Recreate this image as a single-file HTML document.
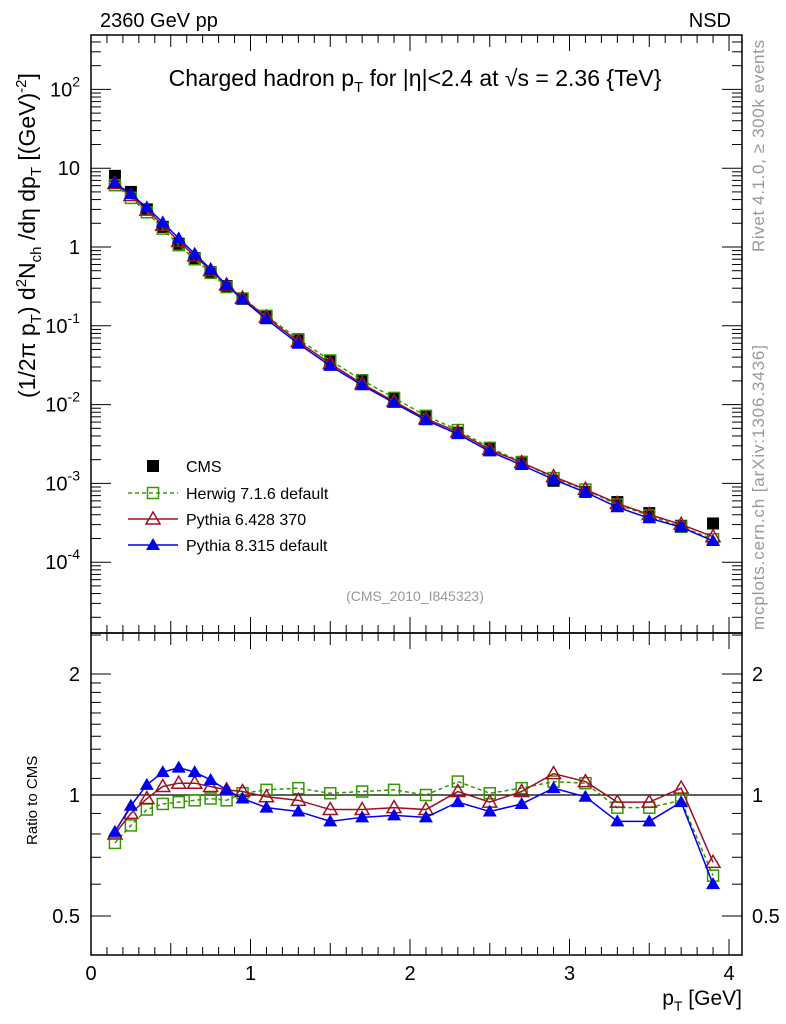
<!DOCTYPE html>
<html><head><meta charset="utf-8"><style>
body{margin:0;background:#fff;}
svg{display:block;font-family:"Liberation Sans",sans-serif;}
</style></head><body>
<svg id="c" width="786" height="1024" viewBox="0 0 786 1024"></svg>
<script>
const xs=[0.15,0.25,0.35,0.45,0.55,0.65,0.75,0.85,0.95,1.1,1.3,1.5,1.7,1.9,2.1,2.3,2.5,2.7,2.9,3.1,3.3,3.5,3.7,3.9];
const cms=[8.0,5.0,3.0,1.8,1.1,0.72,0.48,0.32,0.22,0.13,0.065,0.036,0.020,0.0118,0.0072,0.0044,0.0028,0.0018,0.00108,0.00078,0.00058,0.00042,0.00029,0.00031];
const rHerwig=[0.76,0.84,0.92,0.95,0.96,0.97,0.98,0.97,1.01,1.03,1.04,1.01,1.02,1.03,1.00,1.08,1.01,1.04,1.08,1.07,0.93,0.93,0.97,0.63];
const rPy6=[0.80,0.90,0.98,1.05,1.07,1.07,1.05,1.03,1.02,0.99,0.97,0.92,0.92,0.93,0.92,1.02,0.96,1.02,1.13,1.08,0.96,0.96,1.04,0.68];
const rPy8=[0.81,0.94,1.06,1.14,1.17,1.14,1.09,1.03,0.98,0.93,0.91,0.86,0.88,0.89,0.88,0.96,0.91,0.95,1.04,0.99,0.86,0.86,0.96,0.60];
const xTicks=[0,1,2,3,4];
const yTickExp=[-4,-3,-2,-1,0,1,2];
const rTicks=[0.5,1,2];

const svg=document.getElementById('c');
const NS='http://www.w3.org/2000/svg';
function mk(t,a,p){const e=document.createElementNS(NS,t);for(const k in a)e.setAttribute(k,a[k]);(p||svg).appendChild(e);return e;}
const L=91,R=742,T1=35,B1=633,B2=955;
const X=v=>L+v*159.5;
const Y=v=>247-Math.log10(v)*78.8;
const RY=v=>795-Math.log2(v)*121;

let f1=mk('rect',{x:L,y:T1,width:R-L,height:B1-T1,fill:'none',stroke:'#000','stroke-width':1.5});

let f2=mk('rect',{x:L,y:B1,width:R-L,height:B2-B1,fill:'none',stroke:'#000','stroke-width':1.5});


for(let i=0;i<=40;i++){const v=i/10,x=X(v);if(x>R)break;const len=i%10==0?16:(i%5==0?12:8);
 for(const [yb,dir] of [[B1,-1],[T1,1],[B2,-1]]){mk('line',{x1:x,x2:x,y1:yb,y2:yb+dir*len,stroke:'#000'});}
 mk('line',{x1:x,x2:x,y1:B1,y2:B1+len,stroke:'#000'});}
xTicks.forEach(v=>{const t=mk('text',{x:X(v),y:980,'font-size':20,'text-anchor':'middle'});t.textContent=v;
 });
for(let e=-5;e<=2;e++){for(let m=1;m<10;m++){const v=m*Math.pow(10,e),y=Y(v);if(y<T1||y>B1)continue;const len=m==1?20:10;
 mk('line',{x1:L,x2:L+len,y1:y,y2:y,stroke:'#000'});mk('line',{x1:R,x2:R-len,y1:y,y2:y,stroke:'#000'});}}
yTickExp.forEach(e=>{const y=Y(Math.pow(10,e));const t=mk('text',{x:80,y:y+7,'font-size':20,'text-anchor':'end'});
 if(e==0)t.textContent='1';else if(e==1)t.textContent='10';else{t.textContent='10';const s=mk('tspan',{dy:-10,'font-size':14},t);s.textContent=e;}
 });
[0.4,0.5,0.6,0.7,0.8,0.9,1,1.1,1.2,1.3,1.4,1.5,1.6,1.7,1.8,1.9,2,2.5].forEach(v=>{const y=RY(v);if(y<B1||y>B2)return;const len=(v==0.5||v==1||v==2)?20:10;
 mk('line',{x1:L,x2:L+len,y1:y,y2:y,stroke:'#000'});mk('line',{x1:R,x2:R-len,y1:y,y2:y,stroke:'#000'});});
rTicks.forEach(v=>{const y=RY(v);[80,752].forEach((x,i)=>{const t=mk('text',{x:x,y:y+7,'font-size':20,'text-anchor':i?'start':'end'});t.textContent=v;
 });});
mk('line',{x1:L,x2:R,y1:RY(1),y2:RY(1),stroke:'#000','stroke-width':1.2});

function series(vals,yf,color,dash,marker,name){
 const g=mk('g',{});
 if(color){mk('polyline',{points:vals.map((v,i)=>X(xs[i])+','+yf(v)).join(' '),fill:'none',stroke:color,'stroke-width':1.5,'stroke-dasharray':dash||''},g);}
 vals.forEach((v,i)=>drawMarker(g,X(xs[i]),yf(v),marker,color));}
function drawMarker(g,x,y,m,color){let e;
 if(m=='sq')e=mk('rect',{x:x-6,y:y-6,width:12,height:12,fill:'#000'},g);
 else if(m=='osq')e=mk('rect',{x:x-5.5,y:y-5.5,width:11,height:11,fill:'none',stroke:color,'stroke-width':1.5},g);
 else if(m=='otri')e=mk('polygon',{points:`${x},${y-7} ${x-7},${y+5} ${x+7},${y+5}`,fill:'none',stroke:color,'stroke-width':1.5},g);
 else e=mk('polygon',{points:`${x},${y-7} ${x-7},${y+5} ${x+7},${y+5}`,fill:color},g);
 }
series(cms,Y,null,null,'sq','cms-series');
series(cms.map((c,i)=>c*rHerwig[i]),Y,'#339900','4,3','osq','herwig-series');
series(cms.map((c,i)=>c*rPy6[i]),Y,'#a01020','','otri','pythia6-series');
series(cms.map((c,i)=>c*rPy8[i]),Y,'#0000ee','','tri','pythia8-series');
series(rHerwig,RY,'#339900','4,3','osq','herwig-ratio');
series(rPy6,RY,'#a01020','','otri','pythia6-ratio');
series(rPy8,RY,'#0000ee','','tri','pythia8-ratio');

const leg=[['CMS',null,'','sq',466],['Herwig 7.1.6 default','#339900','4,3','osq',493],['Pythia 6.428 370','#a01020','','otri',519],['Pythia 8.315 default','#0000ee','','tri',545]];
leg.forEach(l=>{const g=mk('g',{});
 if(l[1])mk('line',{x1:128,x2:178,y1:l[4],y2:l[4],stroke:l[1],'stroke-width':1.5,'stroke-dasharray':l[2]},g);
 drawMarker(g,153,l[4],l[3],l[1]);
 const t=mk('text',{x:186,y:l[4]+6,'font-size':16},g);t.textContent=l[0];});

function txt(x,y,s,str,name,extra){const t=mk('text',Object.assign({x:x,y:y,'font-size':s},extra||{}));t.textContent=str;return t;}
txt(100,27,20,'2360 GeV pp','top-left-label');
txt(731,27,20,'NSD','top-right-label',{'text-anchor':'end'});
txt(415,601,14,'(CMS_2010_I845323)','analysis-id',{'text-anchor':'middle',fill:'#999'});
const tt=mk('text',{x:415,y:86,'font-size':23,'text-anchor':'middle'});
tt.innerHTML='Charged hadron p<tspan dy="6" font-size="15">T</tspan><tspan dy="-6"> for |η|&lt;2.4 at √s = 2.36 {TeV}</tspan>';
const yl=mk('text',{transform:'translate(35,398) rotate(-90)','font-size':23,'text-anchor':'start'});
yl.innerHTML='(1/2π p<tspan dy="6" font-size="15">T</tspan><tspan dy="-6">) d</tspan><tspan dy="-9" font-size="15">2</tspan><tspan dy="9">N</tspan><tspan dy="6" font-size="15">ch</tspan><tspan dy="-6"> /dη  dp</tspan><tspan dy="6" font-size="15">T</tspan><tspan dy="-6"> [(GeV)</tspan><tspan dy="-9" font-size="15">-2</tspan><tspan dy="9">]</tspan>';
txt(0,0,15,'Ratio to CMS','ratio-axis-title',{transform:'translate(37,845) rotate(-90)'});
const xl=mk('text',{x:742,y:1005,'font-size':21,'text-anchor':'end'});
xl.innerHTML='p<tspan dy="6" font-size="14">T</tspan><tspan dy="-6"> [GeV]</tspan>';
txt(0,0,17,'Rivet 4.1.0, ≥ 300k events','rivet-label',{transform:'translate(764,252) rotate(-90)',fill:'#999',textLength:212});
txt(0,0,17,'mcplots.cern.ch [arXiv:1306.3436]','mcplots-label',{transform:'translate(764,630) rotate(-90)',fill:'#999',textLength:285});
</script>
</body></html>
